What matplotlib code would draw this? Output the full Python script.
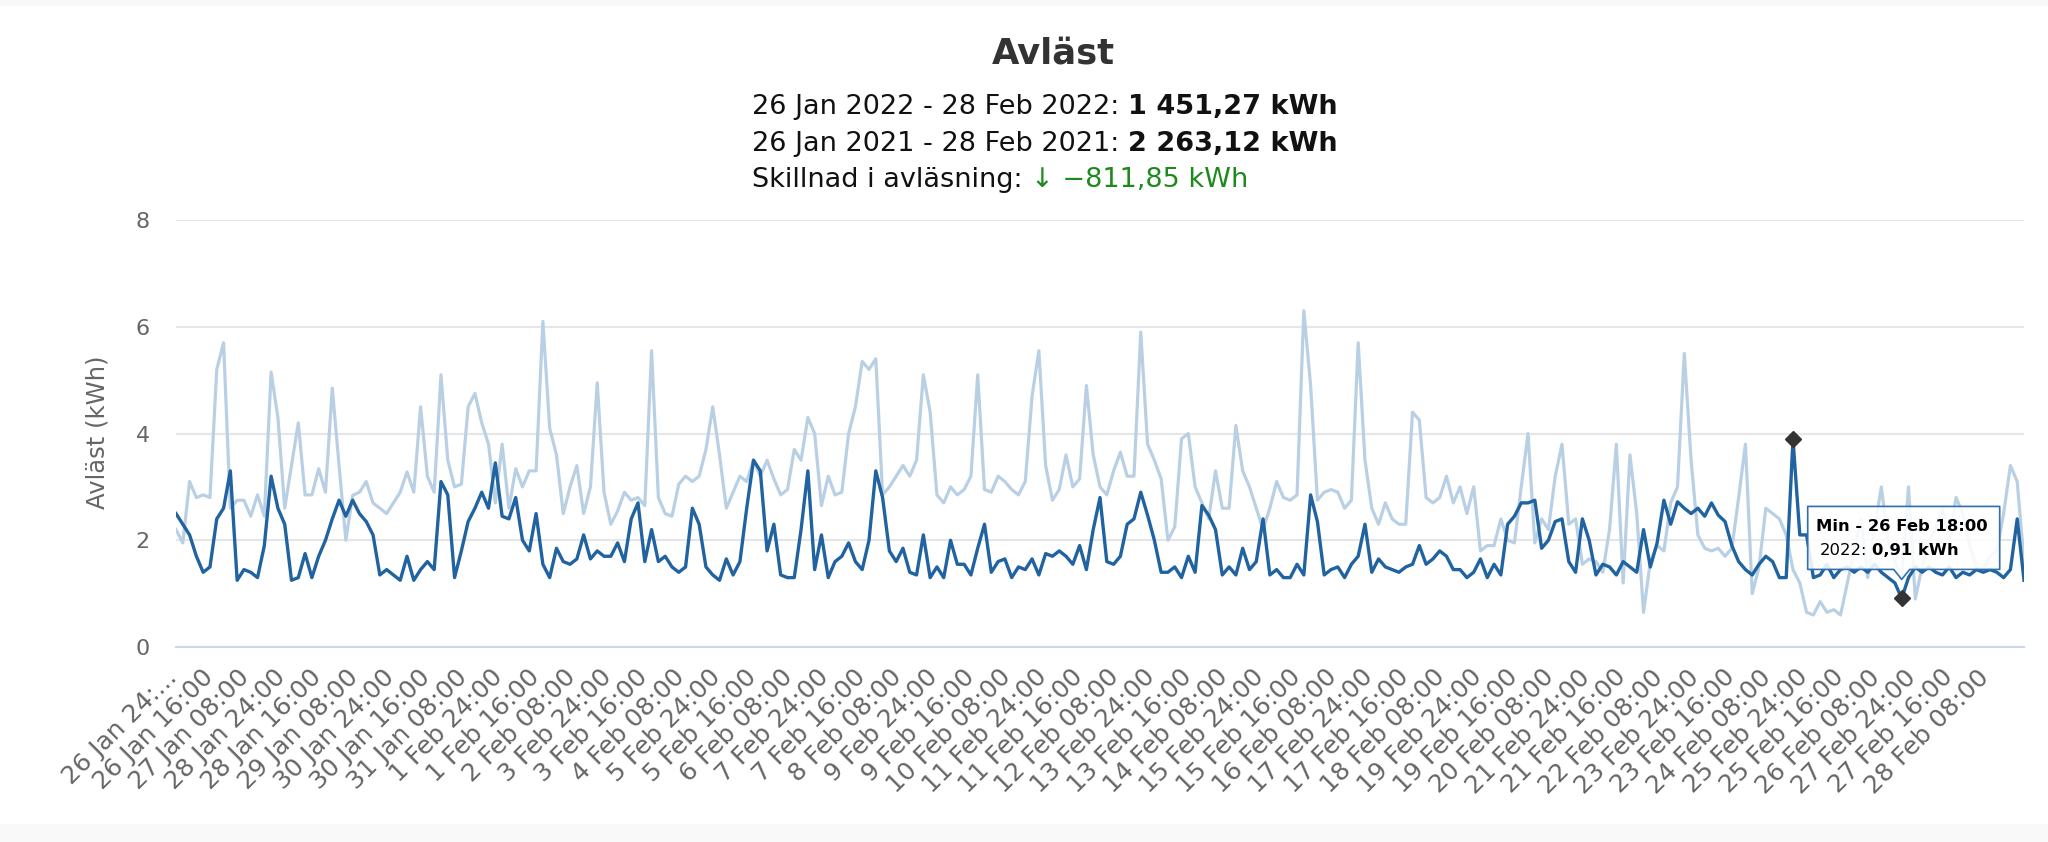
import matplotlib
matplotlib.use("Agg")
import matplotlib.pyplot as plt
import numpy as np
from matplotlib.patches import Polygon, Rectangle
from matplotlib.transforms import Affine2D, ScaledTranslation

# ---------------- data ----------------
STEP_HOURS = 3  # hours between readings (from 26 Jan 00:00)

values_2022 = [
    2.5, 2.3, 2.1, 1.7, 1.4, 1.5, 2.4, 2.6, 3.3, 1.25,
    1.45, 1.4, 1.3, 1.9, 3.2, 2.6, 2.3, 1.25, 1.3, 1.75,
    1.3, 1.7, 2.0, 2.4, 2.75, 2.45, 2.75, 2.5, 2.35, 2.1,
    1.35, 1.45, 1.35, 1.25, 1.7, 1.25, 1.45, 1.6, 1.45, 3.1,
    2.85, 1.3, 1.8, 2.35, 2.6, 2.9, 2.6, 3.45, 2.45, 2.4,
    2.8, 2.0, 1.8, 2.5, 1.55, 1.3, 1.85, 1.6, 1.55, 1.65,
    2.1, 1.65, 1.8, 1.7, 1.7, 1.95, 1.6, 2.4,
    2.7, 1.6, 2.2, 1.6, 1.7, 1.5, 1.4, 1.5, 2.6, 2.3,
    1.5, 1.35, 1.25, 1.65, 1.35, 1.6, 2.6, 3.5, 3.3, 1.8,
    2.3, 1.35, 1.3, 1.3, 2.2, 3.3, 1.45, 2.1, 1.3, 1.6,
    1.7, 1.95, 1.6, 1.45, 2.0, 3.3, 2.8, 1.8, 1.6, 1.85,
    1.4, 1.35, 2.1, 1.3, 1.5, 1.3, 2.0, 1.55, 1.55, 1.35,
    1.85, 2.3, 1.4, 1.6, 1.65, 1.3, 1.5, 1.45, 1.65, 1.35,
    1.75, 1.7, 1.8, 1.7, 1.55, 1.9, 1.45, 2.2,
    2.8, 1.6, 1.55, 1.7, 2.3, 2.4, 2.9, 2.47, 2.0, 1.4,
    1.4, 1.5, 1.3, 1.7, 1.4, 2.65, 2.47, 2.2, 1.35, 1.5,
    1.35, 1.85, 1.45, 1.6, 2.4, 1.35, 1.45, 1.3, 1.3, 1.55,
    1.35, 2.85, 2.35, 1.35, 1.45, 1.5, 1.3, 1.55, 1.7, 2.3,
    1.4, 1.65, 1.5, 1.45, 1.4, 1.5, 1.55, 1.9, 1.55, 1.65,
    1.8, 1.7, 1.45, 1.45, 1.3, 1.4, 1.65, 1.3, 1.55, 1.35,
    2.3, 2.45, 2.7, 2.7, 2.75, 1.85, 2.0, 2.35,
    2.4, 1.6, 1.4, 2.4, 2.0, 1.35, 1.55, 1.5, 1.35, 1.6,
    1.5, 1.4, 2.2, 1.5, 1.95, 2.75, 2.3, 2.72, 2.6, 2.5,
    2.6, 2.45, 2.7, 2.47, 2.35, 1.9, 1.6, 1.45, 1.35, 1.55,
    1.7, 1.6, 1.3, 1.3, 3.89, 2.1, 2.1, 1.3, 1.35, 1.55,
    1.3, 1.45, 1.5, 1.4, 1.5, 1.4, 1.55, 1.4, 1.3, 1.2,
    0.91, 1.3, 1.5, 1.4, 1.5, 1.4, 1.35, 1.5, 1.3, 1.4,
    1.35, 1.45, 1.4, 1.45, 1.4, 1.3, 1.45, 2.4, 1.25,
]

values_2021 = [
    2.2, 1.95, 3.1, 2.8, 2.85, 2.8, 5.2, 5.7, 2.6, 2.75,
    2.75, 2.45, 2.85, 2.45, 5.15, 4.3, 2.6, 3.4, 4.2, 2.85,
    2.85, 3.34, 2.9, 4.85, 3.4, 2.0, 2.84, 2.9, 3.1, 2.7,
    2.6, 2.5, 2.7, 2.9, 3.28, 2.9, 4.5, 3.2, 2.9, 5.1,
    3.5, 3.0, 3.05, 4.5, 4.75, 4.2, 3.8, 2.7, 3.8, 2.6,
    3.34, 3.0, 3.3, 3.3, 6.1, 4.1, 3.6, 2.5, 3.0, 3.4,
    2.5, 3.0, 4.95, 2.9, 2.3, 2.55, 2.9, 2.75,
    2.8, 2.65, 5.55, 2.8, 2.5, 2.45, 3.05, 3.2, 3.1, 3.2,
    3.7, 4.5, 3.6, 2.6, 2.9, 3.2, 3.1, 3.5, 3.2, 3.5,
    3.15, 2.85, 2.95, 3.7, 3.5, 4.3, 4.0, 2.65, 3.2, 2.85,
    2.9, 4.0, 4.5, 5.35, 5.2, 5.4, 2.85, 3.0, 3.2, 3.4,
    3.2, 3.5, 5.1, 4.4, 2.85, 2.7, 3.0, 2.85, 2.95, 3.2,
    5.1, 2.95, 2.9, 3.2, 3.1, 2.95, 2.85, 3.1, 4.7, 5.55,
    3.4, 2.75, 2.95, 3.6, 3.0, 3.15, 4.9, 3.6,
    3.0, 2.85, 3.3, 3.65, 3.2, 3.2, 5.9, 3.8, 3.5, 3.15,
    2.0, 2.25, 3.9, 4.0, 3.0, 2.7, 2.4, 3.3, 2.6, 2.6,
    4.15, 3.3, 3.0, 2.6, 2.2, 2.6, 3.1, 2.8, 2.75, 2.85,
    6.3, 4.9, 2.75, 2.9, 2.95, 2.9, 2.6, 2.75, 5.7, 3.5,
    2.6, 2.3, 2.7, 2.4, 2.3, 2.3, 4.4, 4.25, 2.8, 2.7,
    2.8, 3.2, 2.7, 3.0, 2.5, 3.0, 1.8, 1.9, 1.9, 2.4,
    2.0, 1.95, 3.0, 4.0, 1.95, 2.4, 2.2, 3.2,
    3.8, 2.3, 2.4, 1.55, 1.65, 1.6, 1.4, 2.2, 3.8, 1.2,
    3.6, 2.5, 0.65, 1.6, 1.9, 1.8, 2.7, 3.0, 5.5, 3.5,
    2.1, 1.85, 1.8, 1.85, 1.7, 1.85, 2.8, 3.8, 1.0, 1.5,
    2.6, 2.5, 2.4, 2.1, 1.45, 1.2, 0.65, 0.6, 0.85, 0.65,
    0.7, 0.6, 1.2, 1.8, 2.4, 1.3, 2.2, 3.0, 2.0, 1.6,
    1.3, 3.0, 0.9, 1.5, 2.0, 2.2, 2.6, 2.0, 2.8, 2.5,
    1.9, 1.5, 1.45, 1.7, 1.8, 2.5, 3.4, 3.1, 1.6,
]

tick_hours = list(range(0, 801, 16))
tick_labels = [
    "26 Jan 24:...", "26 Jan 16:00", "27 Jan 08:00", "28 Jan 24:00", "28 Jan 16:00",
    "29 Jan 08:00", "30 Jan 24:00", "30 Jan 16:00", "31 Jan 08:00", "1 Feb 24:00",
    "1 Feb 16:00", "2 Feb 08:00", "3 Feb 24:00", "3 Feb 16:00", "4 Feb 08:00",
    "5 Feb 24:00", "5 Feb 16:00", "6 Feb 08:00", "7 Feb 24:00", "7 Feb 16:00",
    "8 Feb 08:00", "9 Feb 24:00", "9 Feb 16:00", "10 Feb 08:00", "11 Feb 24:00",
    "11 Feb 16:00", "12 Feb 08:00", "13 Feb 24:00", "13 Feb 16:00", "14 Feb 08:00",
    "15 Feb 24:00", "15 Feb 16:00", "16 Feb 08:00", "17 Feb 24:00", "17 Feb 16:00",
    "18 Feb 08:00", "19 Feb 24:00", "19 Feb 16:00", "20 Feb 08:00", "21 Feb 24:00",
    "21 Feb 16:00", "22 Feb 08:00", "23 Feb 24:00", "23 Feb 16:00", "24 Feb 08:00",
    "25 Feb 24:00", "25 Feb 16:00", "26 Feb 08:00", "27 Feb 24:00", "27 Feb 16:00",
    "28 Feb 08:00",
]
y_ticks = [0, 2, 4, 6, 8]

title_text = "Avläst"
line1_label, line1_value = "26 Jan 2022 - 28 Feb 2022:", "1 451,27 kWh"
line2_label, line2_value = "26 Jan 2021 - 28 Feb 2021:", "2 263,12 kWh"
line3_label, line3_value = "Skillnad i avläsning:", "\u2193 \u2212811,85 kWh"
y_label = "Avläst (kWh)"
tooltip_title = "Min - 26 Feb 18:00"
tooltip_series, tooltip_value = "2022:", "0,91 kWh"

# ---------------- style ----------------
W, H = 2048, 842
DARK = "#2063a0"
LIGHT = "#b9d0e4"
plt.rcParams["font.family"] = ["DejaVu Sans"]

fig = plt.figure(figsize=(W / 100, H / 100), dpi=100)
fig.patch.set_facecolor("white")
fig.add_artist(Rectangle((0, 1 - 6 / H), 1, 6 / H, transform=fig.transFigure,
                         facecolor="#f8f8f8", edgecolor="none", zorder=0))
fig.add_artist(Rectangle((0, 0), 1, 18 / H, transform=fig.transFigure,
                         facecolor="#f9f9f9", edgecolor="none", zorder=0))

left, right, top, bottom = 176, 2024, 220, 647
ax = fig.add_axes([left / W, 1 - bottom / H, (right - left) / W, (bottom - top) / H])
ax.set_facecolor("none")

hours = np.arange(len(values_2022)) * STEP_HOURS
ax.plot(hours, values_2021, color=LIGHT, lw=2.3, solid_joinstyle="round", zorder=2)
ax.plot(hours, values_2022, color=DARK, lw=2.4, solid_joinstyle="round", zorder=3)

ax.set_xlim(0, 816)
ax.set_ylim(0, 8)
ax.set_yticks(y_ticks)
ax.set_yticklabels([str(v) for v in y_ticks])
ax.set_axisbelow(True)
ax.grid(axis="y", color="#e6e6e6", lw=1.5)
ax.grid(axis="x", visible=False)
for s in ["top", "right", "left"]:
    ax.spines[s].set_visible(False)
ax.spines["bottom"].set_color("#ccd6eb")
ax.spines["bottom"].set_linewidth(1.5)
ax.spines["bottom"].set_zorder(1)

ax.tick_params(axis="y", length=0, pad=19, labelsize=16, labelcolor="#666666")
ax.tick_params(axis="x", length=0, pad=19, labelsize=18, labelcolor="#666666")
ax.set_xticks(tick_hours)
ax.set_xticklabels(tick_labels, rotation=45, ha="right", va="center",
                   rotation_mode="anchor")
shift = ScaledTranslation(-2 / 72, 0, fig.dpi_scale_trans)
for lab in ax.get_xticklabels():
    lab.set_transform(lab.get_transform() + shift)

fig.text(98 / W, 1 - 432 / H, y_label, rotation=90, ha="center", va="center",
         fontsize=17.5, color="#666666")

# ---------------- header ----------------
fig.text(1053 / W, 1 - 54 / H, title_text, ha="center", va="center",
         fontsize=25.5, fontweight="bold", color="#333333")


def header_line(y_px, label, value, weight, color):
    t = fig.text(752 / W, 1 - y_px / H, label, ha="left", va="center",
                 fontsize=19.5, color="#111111")
    ax.annotate(value, xy=(1, 0), xycoords=t, xytext=(6, 0),
                textcoords="offset points", ha="left", va="bottom",
                fontsize=19.5, fontweight=weight, color=color,
                annotation_clip=False)


header_line(107, line1_label, line1_value, "bold", "#111111")
header_line(144, line2_label, line2_value, "bold", "#111111")
header_line(180, line3_label, line3_value, "normal", "#1e8a1e")

# ---------------- max / min markers and tooltip ----------------
arr = np.array(values_2022)
imax, imin = int(arr.argmax()), int(arr.argmin())
ax.plot([hours[imax]], [arr[imax]], marker="D", ms=8.5, color="#333333",
        ls="none", zorder=5, clip_on=False)
ax.plot([hours[imin]], [arr[imin]], marker="D", ms=8.5, color="#333333",
        ls="none", zorder=5, clip_on=False)

tip = Affine2D() + ScaledTranslation(hours[imin], arr[imin], ax.transData)
callout = [(-94, 29), (-8, 29), (0, 19), (8, 29), (98, 29), (98, 92), (-94, 92)]
ax.add_patch(Polygon(callout, closed=True, transform=tip, facecolor="white",
                     alpha=0.88, edgecolor="none", zorder=6, clip_on=False))
ax.add_patch(Polygon(callout, closed=True, transform=tip, facecolor="none",
                     edgecolor="#2f6fad", lw=1.2, zorder=7, clip_on=False,
                     joinstyle="round"))
ax.text(-86, 72, tooltip_title, transform=tip, ha="left", va="center",
        fontsize=11.8, fontweight="bold", color="#000000", zorder=8)
t2 = ax.text(-82, 48, tooltip_series, transform=tip, ha="left", va="center",
             fontsize=11.8, color="#000000", zorder=8)
ax.annotate(tooltip_value, xy=(1, 0), xycoords=t2, xytext=(3.8, 0),
            textcoords="offset points", ha="left", va="bottom", fontsize=11.8,
            fontweight="bold", color="#000000", zorder=8, annotation_clip=False)

fig.savefig("out.png", dpi=100, facecolor="white")
